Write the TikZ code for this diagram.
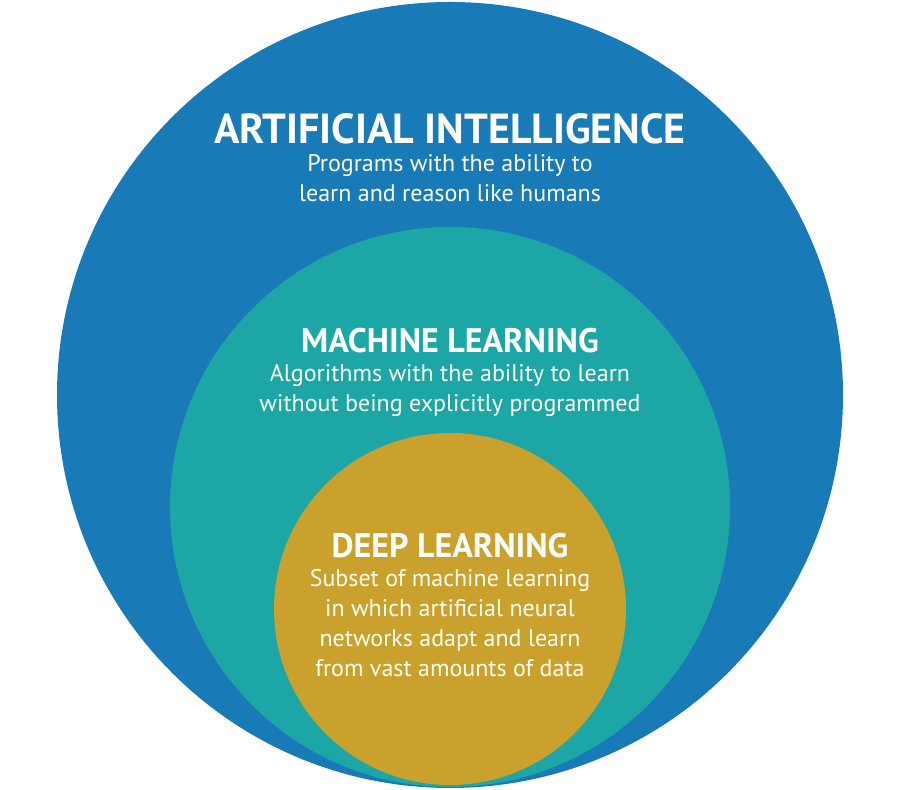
\documentclass[tikz,border=0pt]{standalone}
\usepackage{fontspec}
\setmainfont{PT Sans}
\usetikzlibrary{positioning}

\definecolor{aiblue}{RGB}{24,122,183}
\definecolor{mlteal}{RGB}{28,167,166}
\definecolor{dlgold}{RGB}{202,161,44}

\begin{document}
\begin{tikzpicture}[
  x=0.5pt,y=0.5pt,
  disc/.style={circle,inner sep=0pt,draw=none},
  head/.style={font=\bfseries\fontsize{17}{20}\selectfont,text=white},
  bighead/.style={head,font=\bfseries\fontsize{21}{24}\selectfont},
  blurb/.style={font=\fontsize{12}{15}\selectfont,text=white!95!yellow,align=center},
]

\useasboundingbox (0,0) rectangle (900,790);

% nested fields, all resting on the bottom
\node[disc,fill=aiblue,minimum size=393pt] (ai) at (450,395) {};
\node[disc,fill=mlteal,minimum size=280pt] (ml) at (450,283) {};
\node[disc,fill=dlgold,minimum size=176pt] (dl) at (450,181) {};

\node[bighead] (aihead) at (450,661) {ARTIFICIAL INTELLIGENCE};
\node[blurb,below=-2pt of aihead] (aitext) {Programs with the ability to\\learn and reason like humans};

\node[head] (mlhead) at (450,449) {MACHINE LEARNING};
\node[blurb,below=-1.6pt of mlhead] (mltext) {Algorithms with the ability to learn\\without being explicitly programmed};

\node[head] (dlhead) at (450,244) {DEEP LEARNING};
\node[blurb,below=-1.6pt of dlhead] (dltext) {Subset of machine learning\\in which artificial neural\\networks adapt and learn\\from vast amounts of data};

\end{tikzpicture}
\end{document}
